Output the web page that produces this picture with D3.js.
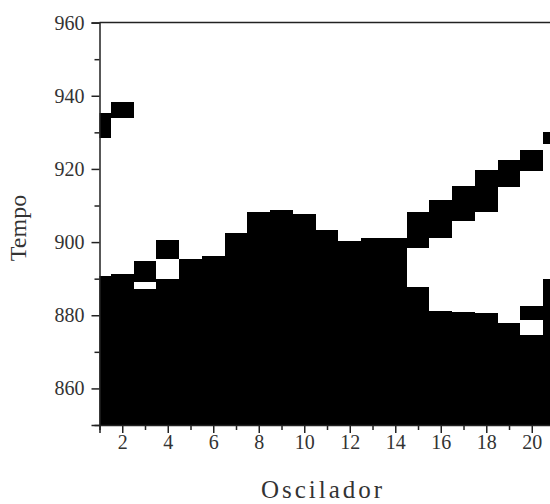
<!DOCTYPE html>
<html>
<head>
<meta charset="utf-8">
<script src="https://cdn.jsdelivr.net/npm/d3@7"></script>
<style>
  html, body { margin: 0; padding: 0; background: #fff; overflow: hidden; }
  svg { display: block; }
  svg text { font-family: "Times New Roman", "Liberation Serif", Tinos, Times, serif; font-weight: normal; }
</style>
</head>
<body>
<svg id="chart" width="550" height="504"></svg>
<script>
// Osciladores (colunas) e os intervalos de tempo em que cada um está ativo (preto)
const osciladores = [1, 1, 2, 2, 3, 3, 4, 4, 5, 6, 7, 8, 9, 10, 11, 12, 13, 14,
                     15, 15, 16, 16, 17, 17, 18, 18, 19, 19, 20, 20, 20, 21, 21];
const inicio = [850, 928.5, 850, 934.0, 850, 889.2, 850, 895.3, 850, 850, 850, 850, 850, 850, 850, 850, 850, 850,
                850, 898.5, 850, 901.2, 850, 905.7, 850, 908.3, 850, 915.0, 850, 878.8, 919.4, 850, 926.9];
const fim    = [890.8, 935.3, 891.4, 938.4, 887.1, 894.7, 889.8, 900.7, 895.3, 896.3, 902.4, 908.3, 908.9, 907.8, 903.4, 900.3, 901.2, 901.2,
                887.6, 908.3, 881.1, 911.5, 880.8, 915.3, 880.5, 919.7, 877.9, 922.5, 874.5, 882.6, 925.3, 889.9, 930.2];

const xMajor = [2, 4, 6, 8, 10, 12, 14, 16, 18, 20];
const xMinor = [1, 3, 5, 7, 9, 11, 13, 15, 17, 19, 21];
const yMajor = [860, 880, 900, 920, 940, 960];
const yMinor = [850, 870, 890, 910, 930, 950];

const svg = d3.select("#chart");
const mLeft = 99.5, mTop = 22.6, mBottom = 425, mRight = 565.9;

const x = d3.scaleLinear().domain([1, 21.5]).range([mLeft, mRight]);
const y = d3.scaleLinear().domain([850, 960]).range([mBottom, mTop]);

svg.append("defs").append("clipPath").attr("id", "plot")
  .append("rect").attr("x", mLeft).attr("y", mTop)
  .attr("width", mRight - mLeft).attr("height", mBottom - mTop);

const spans = osciladores.map((o, i) => ({ o, a: inicio[i], b: fim[i] }));

svg.append("g").attr("clip-path", "url(#plot)")
  .selectAll("rect").data(spans).join("rect")
  .attr("x", d => x(d.o - 0.5))
  .attr("width", d => x(d.o + 0.5) - x(d.o - 0.5))
  .attr("y", d => y(d.b))
  .attr("height", d => y(d.a) - y(d.b))
  .attr("fill", "#000")
  .attr("shape-rendering", "crispEdges");

const axisColor = "#222";

// Eixo Y
svg.append("g").attr("transform", `translate(${mLeft},0)`)
  .call(d3.axisLeft(y).tickValues(yMajor).tickSize(8).tickPadding(7).tickFormat(d3.format("d")));
svg.append("g").attr("transform", `translate(${mLeft},0)`)
  .call(d3.axisLeft(y).tickValues(yMinor).tickSize(5).tickFormat(""))
  .call(g => g.select(".domain").remove());

// Eixo X
svg.append("g").attr("transform", `translate(0,${mBottom})`)
  .call(d3.axisBottom(x).tickValues(xMajor).tickSize(8).tickPadding(2).tickFormat(d3.format("d")));
svg.append("g").attr("transform", `translate(0,${mBottom})`)
  .call(d3.axisBottom(x).tickValues(xMinor).tickSize(5).tickFormat(""))
  .call(g => g.select(".domain").remove());

svg.selectAll(".domain").attr("stroke", axisColor).attr("stroke-width", 1.5);
svg.selectAll(".tick line").attr("stroke", axisColor).attr("stroke-width", 1.5);
svg.selectAll(".tick text").attr("font-size", 20).attr("fill", "#333");

// Linha superior da moldura
svg.append("line")
  .attr("x1", mLeft).attr("x2", mRight).attr("y1", mTop).attr("y2", mTop)
  .attr("stroke", axisColor).attr("stroke-width", 1.5);

// Títulos dos eixos
svg.append("text")
  .attr("x", 323).attr("y", 498)
  .attr("text-anchor", "middle")
  .attr("font-size", 25).attr("letter-spacing", 3)
  .attr("fill", "#333")
  .text("Oscilador");

svg.append("text")
  .attr("transform", "translate(26,228) rotate(-90)")
  .attr("text-anchor", "middle")
  .attr("font-size", 24)
  .attr("fill", "#333")
  .text("Tempo");
</script>
</body>
</html>
